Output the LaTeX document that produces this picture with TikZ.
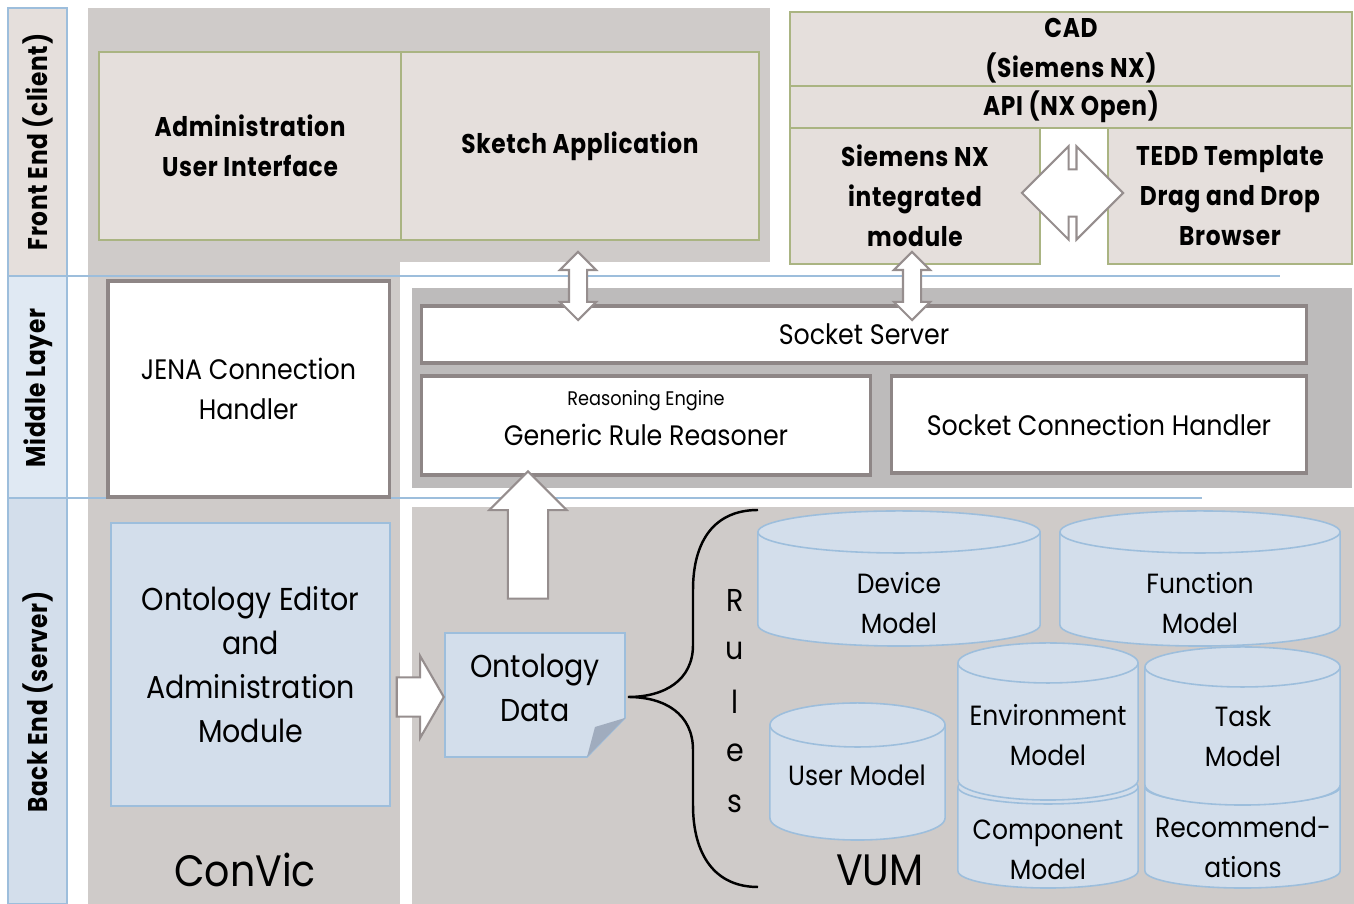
\documentclass[tikz,border=0pt]{standalone}
\usepackage{fontspec}
\setmainfont{Poppins}[FakeStretch = 0.9]
\newfontfamily\narrowbold{Poppins}[FakeStretch = 0.86, LetterSpace = 2.5]
\usetikzlibrary{shapes.arrows}

\definecolor{panelgray}{RGB}{207,203,201}
\definecolor{midgray}{RGB}{189,187,187}
\definecolor{fefill}{RGB}{229,223,220}
\definecolor{feline}{RGB}{170,180,130}
\definecolor{boxline}{RGB}{142,134,134}
\definecolor{befill}{RGB}{211,222,235}
\definecolor{beline}{RGB}{157,190,220}
\definecolor{midfill}{RGB}{224,233,243}
\definecolor{foldgray}{RGB}{160,172,190}
\definecolor{arrowline}{RGB}{150,142,142}

\newcommand\fefont{\fontsize{7.7}{11.4}\selectfont\narrowbold\bfseries}
\newcommand\midfont{\fontsize{8}{11.4}\selectfont}
\newcommand\smallfont{\fontsize{5.6}{7}\selectfont}
\newcommand\befont{\fontsize{9}{12.5}\selectfont}
\newcommand\dbfont{\fontsize{7.9}{11.4}\selectfont}
\newcommand\bigfont{\fontsize{12.5}{14}\selectfont}

\tikzset{
	fe/.style = {draw = feline, fill = fefill, line width = 0.45pt, font = \fefont, align = center, inner sep = 0pt},
	mid/.style = {draw = boxline, fill = white, line width = 0.9pt, font = \midfont, align = center, inner sep = 0pt},
	be/.style = {draw = beline, fill = befill, line width = 0.45pt, font = \befont, align = center, inner sep = 0pt},
	dbtext/.style = {font = \dbfont, align = center},
	layerlabel/.style = {rotate = 90, font = \fefont},
	blockarrow/.style = {single arrow, draw = arrowline, fill = white, line width = 0.6pt, inner xsep = 0pt},
	twoway/.style = {double arrow, draw = arrowline, fill = white, line width = 0.6pt, inner xsep = 0pt},
	layerline/.style = {draw = beline, line width = 0.7pt},
	% database cylinder: width, height, radius of the end ellipse (all in cm)
	pics/db/.style n args = {3}{code = {
		\filldraw[fill = befill, draw = beline, line width = 0.45pt]
			({-#1/2*1cm}, {#2/2*1cm-#3*1cm}) -- ({-#1/2*1cm}, {-#2/2*1cm+#3*1cm})
			arc[start angle = 180, end angle = 360, x radius = #1/2*1cm, y radius = #3*1cm]
			-- ({#1/2*1cm}, {#2/2*1cm-#3*1cm})
			arc[start angle = 0, end angle = 180, x radius = #1/2*1cm, y radius = #3*1cm] -- cycle;
		\draw[beline, line width = 0.45pt] ({-#1/2*1cm}, {#2/2*1cm-#3*1cm})
			arc[start angle = 180, end angle = 360, x radius = #1/2*1cm, y radius = #3*1cm];
	}}
}

\begin{document}
\begin{tikzpicture}[x = 0.01cm, y = -0.01cm]
	\useasboundingbox (0, 0) rectangle (1354, 904);

	% panels
	\fill[panelgray] (88, 8) rectangle (770, 262);
	\fill[panelgray] (88, 8) rectangle (400, 904);
	\fill[midgray] (412, 288) rectangle (1352, 488);
	\fill[panelgray] (412, 507) rectangle (1354, 904);

	% layer column
	\filldraw[fill = fefill, draw = beline, line width = 0.45pt] (8, 8) rectangle (67, 276);
	\filldraw[fill = midfill, draw = beline, line width = 0.45pt] (8, 276) rectangle (67, 498);
	\filldraw[fill = befill, draw = beline, line width = 0.45pt] (8, 498) rectangle (67, 904);
	\node[layerlabel] (lfront) at (38, 142) {Front End (client)};
	\node[layerlabel] (lmid) at (38, 388) {Middle Layer};
	\node[layerlabel] (lback) at (38, 702) {Back End (server)};
	\draw[layerline] (8, 276) -- (1280, 276);
	\draw[layerline] (8, 498) -- (1202, 498);

	% front end
	\node[fe, minimum width = 3.02cm, minimum height = 1.88cm] (admin) at (250, 146) {Administration\\User Interface};
	\node[fe, minimum width = 3.58cm, minimum height = 1.88cm] (sketch) at (580, 146) {Sketch Application};
	\node[fe, minimum width = 5.62cm, minimum height = 0.78cm] (cad) at (1071, 51) {CAD\\(Siemens NX)};
	\node[fe, minimum width = 5.62cm, minimum height = 0.42cm] (api) at (1071, 107) {API (NX Open)};
	\node[fe, minimum width = 2.5cm, minimum height = 1.36cm] (nxmod) at (915, 196) {Siemens NX\\integrated\\module};
	\node[fe, minimum width = 2.44cm, minimum height = 1.36cm] (tedd) at (1230, 196) {TEDD Template\\Drag and Drop\\Browser};

	% middle layer
	\node[mid, minimum width = 2.81cm, minimum height = 2.16cm] (jena) at (248.5, 389) {JENA Connection\\Handler};
	\node[mid, minimum width = 8.84cm, minimum height = 0.57cm] (server) at (864, 334.5) {Socket Server};
	\node[mid, minimum width = 4.48cm, minimum height = 0.99cm] (reasoner) at (646, 425.5) {};
	\node[font = \smallfont] (engine) at (646, 401) {Reasoning Engine};
	\node[font = \midfont] (generic) at (646, 435) {Generic Rule Reasoner};
	\node[mid, minimum width = 4.14cm, minimum height = 0.97cm] (handler) at (1099, 424.5) {Socket Connection Handler};

	% back end
	\node[be, minimum width = 2.79cm, minimum height = 2.83cm] (editor) at (250.5, 664.5) {Ontology Editor\\and\\Administration\\Module};
	\node[font = \bigfont] (convic) at (245, 870) {ConVic};

	\filldraw[fill = befill, draw = beline, line width = 0.45pt] (445, 633) -- (625, 633) -- (625, 718) -- (587, 757) -- (445, 757) -- cycle;
	\fill[foldgray] (625, 718) -- (595, 727) -- (587, 757) -- cycle;
	\node[font = \befont, align = center] (ontdata) at (535, 688) {Ontology\\Data};

	\draw[line width = 0.7pt] (758, 510) .. controls (715, 510) and (693, 540) .. (693, 590) -- (693, 645)
		.. controls (693, 680) and (665, 697) .. (628, 697)
		.. controls (665, 697) and (693, 714) .. (693, 750) -- (693, 805)
		.. controls (693, 855) and (715, 887) .. (758, 887);
	\foreach \ch [count = \i] in {R, u, l, e, s}
		\node[font = \befont] (rule\i) at (735, 549 + 51 * \i) {\ch};

	% models
	\pic (device) at (899, 578.5) {db = {2.82}{1.35}{0.21}};
	\node[dbtext] (devicetext) at (899, 603) {Device\\Model};
	\pic (function) at (1200, 578.5) {db = {2.8}{1.35}{0.21}};
	\node[dbtext] (functiontext) at (1200, 603) {Function\\Model};
	\pic (user) at (857.5, 771.5) {db = {1.75}{1.37}{0.22}};
	\node[dbtext] (usertext) at (857, 775) {User Model};
	\pic (component) at (1048, 829) {db = {1.8}{1.18}{0.17}};
	\node[dbtext] (componenttext) at (1048, 850) {Component\\Model};
	\pic (environment) at (1048, 721.5) {db = {1.8}{1.57}{0.2}};
	\node[dbtext] (environmenttext) at (1048, 735) {Environment\\Model};
	\pic (recommend) at (1242.5, 829) {db = {1.95}{1.18}{0.17}};
	\node[dbtext] (recommendtext) at (1243, 847) {Recommend-\\ations};
	\pic (task) at (1242.5, 726) {db = {1.95}{1.58}{0.2}};
	\node[dbtext] (tasktext) at (1243, 736) {Task\\Model};
	\node[font = \bigfont] (vum) at (880, 870) {VUM};

	% block arrows
	\node[twoway, rotate = 90, inner ysep = 0.08cm, minimum height = 0.68cm, minimum width = 0.34cm, double arrow head extend = 0.09cm] (sketchlink) at (578, 286) {};
	\node[twoway, rotate = 90, inner ysep = 0.08cm, minimum height = 0.68cm, minimum width = 0.34cm, double arrow head extend = 0.09cm] (nxlink) at (912, 286) {};
	\node[twoway, inner ysep = 0.225cm, minimum height = 1.01cm, minimum width = 0.91cm, double arrow head extend = 0.23cm] (teddlink) at (1072.5, 193) {};
	\node[blockarrow, rotate = 90, anchor = tip, inner ysep = 0.19cm, minimum height = 1.27cm, minimum width = 0.75cm, single arrow head extend = 0.185cm] (rulesup) at (528, 470) {};
	\node[blockarrow, anchor = tip, single arrow tip angle = 120, inner ysep = 0.185cm, minimum height = 0.47cm, minimum width = 0.8cm, single arrow head extend = 0.215cm] (exportarrow) at (445, 697) {};
\end{tikzpicture}
\end{document}
